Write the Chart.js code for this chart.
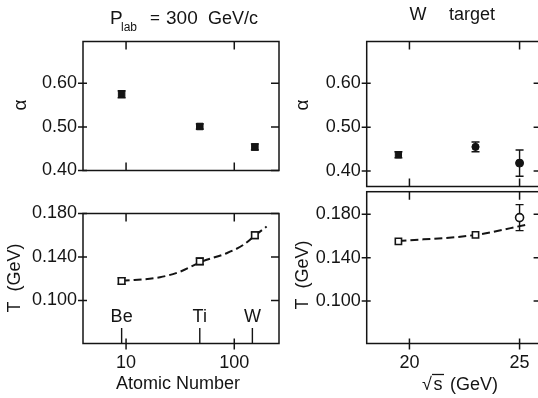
<!DOCTYPE html>
<html><head><meta charset="utf-8">
<script src="https://cdn.jsdelivr.net/npm/chart.js@4"></script>
<style>
html,body{margin:0;padding:0;background:#fff;}
#wrap{position:relative;width:538px;height:398px;overflow:hidden;background:#fff;}
canvas{position:absolute;left:0;top:0;}
</style></head><body>
<div id="wrap">
<canvas id="cTL" width="548" height="398"></canvas>
<canvas id="cBL" width="548" height="398"></canvas>
<canvas id="cTR" width="548" height="398"></canvas>
<canvas id="cBR" width="548" height="398"></canvas>
</div>
<script>
// ---------- data ----------
const atomicNumber = [9.1, 48, 155];            // Be, Ti, W (x positions of points)
const targetNames = ['Be', 'Ti', 'W'];
const targetLabelA = [9.1, 48, 147];            // positions of the Be / Ti / W markers
const alphaVsA = [0.575, 0.501, 0.454];
const alphaVsAErr = [0.008, 0.006, 0.007];
const tempVsA = [0.118, 0.136, 0.160];
const tempVsAErr = [0.003, 0.003, 0.003];
const fitCurveA = [9.1, 20.6, 31.5, 50, 85, 121, 155, 199];
const fitCurveTA = [0.118, 0.1214, 0.1265, 0.1358, 0.1435, 0.1511, 0.1597, 0.168];

const sqrtS = [19.5, 23.0, 25.0];
const alphaVsS = [0.437, 0.455, 0.418];
const alphaVsSErr = [0.007, 0.011, 0.030];
const tempVsS = [0.155, 0.161, 0.177];
const tempVsSErr = [0, 0, 0.012];
const fitLineS = [19.5, 23.0, 25.4];
const fitLineTS = [0.1554, 0.161, 0.1708];

const alphaTicks = [0.40, 0.50, 0.60];
const tempTicks = [0.100, 0.140, 0.180];
const atomicTicks = [10, 100];
const sqrtSTicks = [20, 25];
// ------------------------------------------------

const CW = 548, CH = 398;
const FONT = '"Liberation Sans", Arial, sans-serif';
const INK = '#141414';

function txt(ctx, s, x, y, o = {}) {
  ctx.save();
  ctx.translate(x, y);
  if (o.rot) ctx.rotate(o.rot);
  ctx.font = (o.size || 18) + 'px ' + FONT;
  ctx.fillStyle = INK;
  ctx.textAlign = o.align || 'center';
  ctx.textBaseline = o.base || 'middle';
  ctx.fillText(s, 0, 0);
  ctx.restore();
}

function pts(xs, ys) { return xs.map((x, i) => ({ x: x, y: ys[i] })); }

function makePanel(id, c) {
  const yW = 60;
  const padding = { left: c.box.l - yW, right: CW - c.box.r, top: c.box.t, bottom: 0 };
  const plug = {
    id: 'frame_' + id,
    beforeDatasetsDraw(chart) {
      const { ctx, scales: { x, y } } = chart;
      ctx.save();
      ctx.strokeStyle = INK; ctx.lineWidth = 1.4;
      c.err.xs.forEach((xv, i) => {
        const e = c.err.e[i];
        if (!e) return;
        const px = x.getPixelForValue(xv);
        const p1 = y.getPixelForValue(c.err.ys[i] + e);
        const p2 = y.getPixelForValue(c.err.ys[i] - e);
        ctx.beginPath();
        ctx.moveTo(px, p1); ctx.lineTo(px, p2);
        ctx.moveTo(px - 4, p1); ctx.lineTo(px + 4, p1);
        ctx.moveTo(px - 4, p2); ctx.lineTo(px + 4, p2);
        ctx.stroke();
      });
      ctx.restore();
    },
    afterDraw(chart) {
      const { ctx, chartArea: a, scales: { x, y } } = chart;
      ctx.save();
      ctx.strokeStyle = INK; ctx.lineWidth = 1.5;
      ctx.strokeRect(a.left, a.top, a.right - a.left, a.bottom - a.top);
      ctx.beginPath();
      c.yTicks.forEach(v => {
        const p = y.getPixelForValue(v);
        ctx.moveTo(a.left - 5, p); ctx.lineTo(a.left + 4, p);
        ctx.moveTo(a.right - 8, p); ctx.lineTo(a.right, p);
      });
      c.xTicks.forEach(v => {
        const p = x.getPixelForValue(v);
        ctx.moveTo(p, a.top); ctx.lineTo(p, a.top + 8);
        ctx.moveTo(p, a.bottom - (c.showX ? 5 : 8)); ctx.lineTo(p, a.bottom + (c.showX ? 6 : 0));
      });
      ctx.stroke();
      ctx.restore();
      if (c.extra) c.extra(ctx, chart);
    }
  };
  return new Chart(document.getElementById(id), {
    type: 'scatter',
    data: { datasets: c.datasets },
    options: {
      responsive: false, animation: false, events: [],
      layout: { padding: padding },
      plugins: { legend: { display: false }, tooltip: { enabled: false } },
      scales: {
        x: {
          type: c.xType, min: c.xMin, max: c.xMax,
          display: true,
          grid: { display: false, drawTicks: false }, border: { display: false },
          afterBuildTicks: s => { s.ticks = c.xTicks.map(v => ({ value: v })); },
          afterFit: s => { s.height = CH - c.box.b; },
          ticks: { display: c.showX, font: { size: 18, family: FONT }, color: INK, padding: 9, maxRotation: 0,
                   autoSkip: false, callback: v => String(v) }
        },
        y: {
          type: 'linear', min: c.yMin, max: c.yMax,
          grid: { display: false, drawTicks: false }, border: { display: false },
          afterBuildTicks: s => { s.ticks = c.yTicks.map(v => ({ value: v })); },
          afterFit: s => { s.width = yW; },
          ticks: { font: { size: 18, family: FONT }, color: INK, padding: 6,
                   autoSkip: false, callback: v => Number(v).toFixed(c.yDec) }
        }
      }
    },
    plugins: [plug]
  });
}

const dashStyle = { showLine: true, pointRadius: 0, borderColor: INK, borderWidth: 2,
  borderDash: [8, 4], cubicInterpolationMode: 'monotone', order: 2, fill: false };

// Top-left: alpha vs atomic number
makePanel('cTL', {
  box: { l: 83, r: 279, t: 41.5, b: 170.5 },
  xType: 'logarithmic', xMin: 4.0, xMax: 259, xTicks: atomicTicks, showX: false,
  yMin: 0.40, yMax: 0.696, yTicks: alphaTicks, yDec: 2,
  err: { xs: atomicNumber, ys: alphaVsA, e: alphaVsAErr },
  datasets: [{ data: pts(atomicNumber, alphaVsA), pointStyle: 'rect', pointRadius: 4.6,
    backgroundColor: INK, borderColor: INK, borderWidth: 1, order: 1 }],
  extra(ctx) {
    txt(ctx, 'P', 110, 24, { align: 'left', base: 'alphabetic', size: 19 });
    txt(ctx, 'lab', 121, 31, { align: 'left', base: 'alphabetic', size: 12 });
    txt(ctx, '=', 150, 23, { align: 'left', base: 'alphabetic', size: 17 });
    txt(ctx, '300', 166, 24, { align: 'left', base: 'alphabetic', size: 19 });
    txt(ctx, 'GeV/c', 258, 24, { align: 'right', base: 'alphabetic', size: 18 });
    txt(ctx, 'α', 21, 105, { rot: -Math.PI / 2, size: 19 });
  }
});

// Bottom-left: T vs atomic number
makePanel('cBL', {
  box: { l: 83, r: 279, t: 213.5, b: 343.5 },
  xType: 'logarithmic', xMin: 4.0, xMax: 259, xTicks: atomicTicks, showX: true,
  yMin: 0.0605, yMax: 0.180, yTicks: tempTicks, yDec: 3,
  err: { xs: atomicNumber, ys: tempVsA, e: tempVsAErr },
  datasets: [
    { data: pts(atomicNumber, tempVsA), pointStyle: 'rect', pointRadius: 4.6,
      backgroundColor: '#fff', borderColor: INK, borderWidth: 1.6, order: 1 },
    Object.assign({ data: pts(fitCurveA, fitCurveTA) }, dashStyle)
  ],
  extra(ctx, chart) {
    const x = chart.scales.x, a = chart.chartArea;
    ctx.save(); ctx.strokeStyle = INK; ctx.lineWidth = 1.4; ctx.beginPath();
    targetLabelA.forEach((v, i) => {
      const p = x.getPixelForValue(v);
      ctx.moveTo(p, 328); ctx.lineTo(p, a.bottom);
      txt(ctx, targetNames[i], p, 317, { size: 18 });
    });
    ctx.stroke(); ctx.restore();
    txt(ctx, 'T  (GeV)', 15, 278, { rot: -Math.PI / 2, size: 18 });
    txt(ctx, 'Atomic Number', 178, 384, { size: 18 });
  }
});

// Top-right: alpha vs sqrt(s)
makePanel('cTR', {
  box: { l: 366.7, r: 541.6, t: 41.5, b: 186.5 },
  xType: 'linear', xMin: 18.06, xMax: 26.0, xTicks: sqrtSTicks, showX: false,
  yMin: 0.3647, yMax: 0.6953, yTicks: alphaTicks, yDec: 2,
  err: { xs: sqrtS, ys: alphaVsS, e: alphaVsSErr },
  datasets: [{ data: pts(sqrtS, alphaVsS), pointStyle: ['rect', 'circle', 'circle'],
    pointRadius: [4.4, 3.6, 4.0], backgroundColor: INK, borderColor: INK, borderWidth: 1, order: 1 }],
  extra(ctx) {
    txt(ctx, 'W', 418, 20, { base: 'alphabetic', size: 18 });
    txt(ctx, 'target', 472, 20, { base: 'alphabetic', size: 18 });
    txt(ctx, 'α', 303, 105, { rot: -Math.PI / 2, size: 19 });
  }
});

// Bottom-right: T vs sqrt(s)
makePanel('cBR', {
  box: { l: 366.7, r: 541.6, t: 191.7, b: 343.5 },
  xType: 'linear', xMin: 18.06, xMax: 26.0, xTicks: sqrtSTicks, showX: true,
  yMin: 0.0608, yMax: 0.2009, yTicks: tempTicks, yDec: 3,
  err: { xs: sqrtS, ys: tempVsS, e: tempVsSErr },
  datasets: [
    { data: pts(sqrtS, tempVsS), pointStyle: ['rect', 'rect', 'circle'], pointRadius: [4.4, 4.4, 4.0],
      backgroundColor: '#fff', borderColor: INK, borderWidth: 1.6, order: 1 },
    Object.assign({ data: pts(fitLineS, fitLineTS) }, dashStyle)
  ],
  extra(ctx) {
    txt(ctx, 'T  (GeV)', 303, 275, { rot: -Math.PI / 2, size: 18 });
    txt(ctx, '√', 427, 385, { size: 18 });
    txt(ctx, 's', 438, 385, { size: 18 });
    ctx.save(); ctx.strokeStyle = INK; ctx.lineWidth = 1.3; ctx.beginPath();
    ctx.moveTo(432, 374.5); ctx.lineTo(444, 374.5); ctx.stroke(); ctx.restore();
    txt(ctx, '(GeV)', 450, 385, { align: 'left', size: 18 });
  }
});
</script>
</body></html>
